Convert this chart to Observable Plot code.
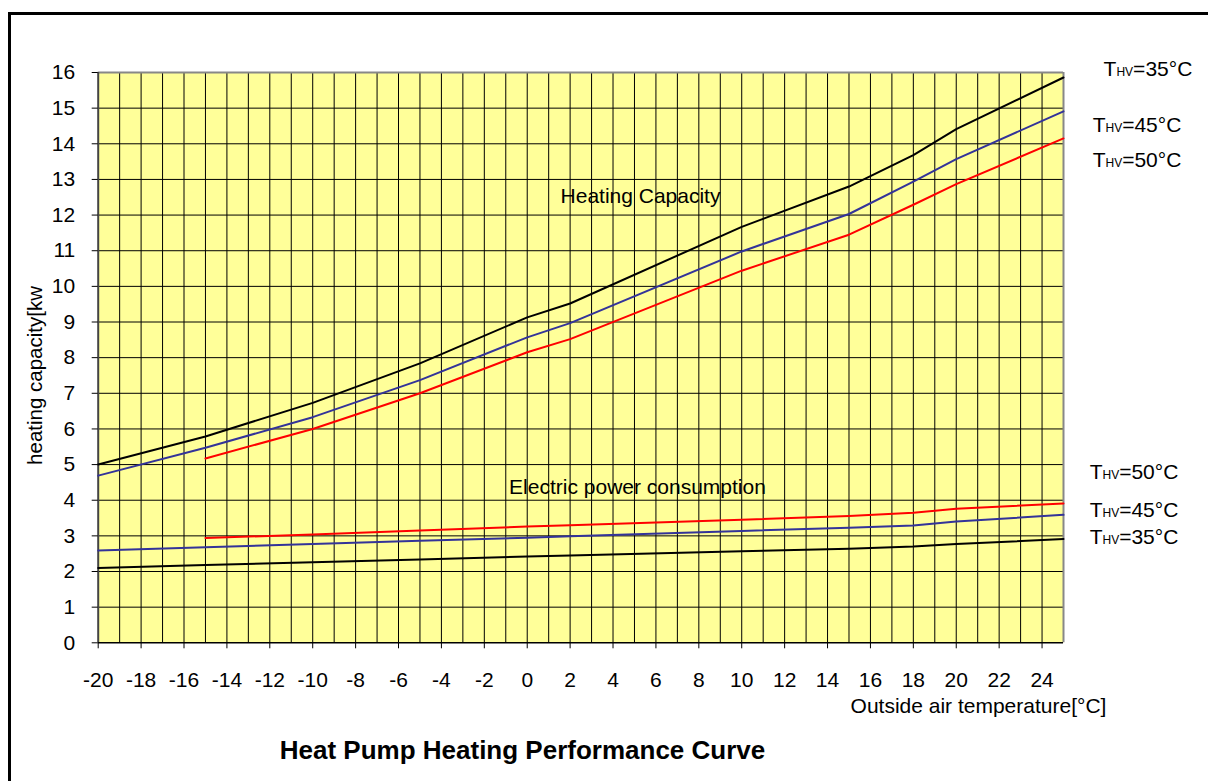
<!DOCTYPE html>
<html>
<head>
<meta charset="utf-8">
<script src="https://cdn.jsdelivr.net/npm/d3@7"></script>
<script src="https://cdn.jsdelivr.net/npm/@observablehq/plot@0.6"></script>
<style>
  html, body { margin: 0; padding: 0; background: #fff; overflow: hidden; }
  #wrap { position: relative; width: 1208px; height: 781px; overflow: hidden; }
  #box { position: absolute; left: 8px; top: 12px; width: 1400px; height: 1000px; border: 3px solid #000; box-sizing: border-box; }
  #chart { position: absolute; left: 0; top: 0; }
</style>
</head>
<body>
<div id="wrap"><div id="box"></div><div id="chart"></div></div>
<script>
// Outside air temperature (°C) sample points
const temps = [-20, -15, -10, -5, 0, 2, 10, 15, 18, 20, 25];
// Heating capacity (kW) for each flow temperature
const cap35 = [5.00, 5.79, 6.73, 7.84, 9.13, 9.52, 11.67, 12.80, 13.68, 14.41, 15.86];
const cap45 = [4.69, 5.47, 6.33, 7.37, 8.57, 8.97, 10.98, 12.03, 12.94, 13.57, 14.91];
const cap50 = [null, 5.17, 6.00, 7.00, 8.15, 8.52, 10.44, 11.45, 12.29, 12.87, 14.15];
// Electric power consumption (kW)
const pow35 = [2.10, 2.18, 2.26, 2.34, 2.42, 2.45, 2.57, 2.64, 2.70, 2.77, 2.91];
const pow45 = [2.59, 2.68, 2.77, 2.86, 2.95, 2.99, 3.14, 3.23, 3.29, 3.40, 3.59];
const pow50 = [null, 2.94, 3.04, 3.15, 3.26, 3.30, 3.45, 3.56, 3.65, 3.76, 3.91];

const xTicks = d3.range(-20, 25, 2);
const yTicks = d3.range(0, 17, 1);
const seriesColors = {"35": "#000000", "45": "#333399", "50": "#ff0000"};

const toRows = (vals) => temps.map((t, i) => ({t, v: vals[i]})).filter(d => d.v != null);

// label annotations (data coords)
const capLabels = [
  {t: 26.87, v: 16.08, s: "35"},
  {t: 26.36, v: 14.53, s: "45"},
  {t: 26.36, v: 13.55, s: "50"}
];
const powLabels = [
  {t: 26.22, v: 4.78, s: "50"},
  {t: 26.22, v: 3.71, s: "45"},
  {t: 26.22, v: 2.96, s: "35"}
];

const font = "'Liberation Sans', Arial, Helvetica, sans-serif";

const plot = Plot.plot({
  width: 1208,
  height: 781,
  marginLeft: 97.7,
  marginRight: 145,
  marginTop: 72,
  marginBottom: 138.7,
  style: {fontFamily: font, fontSize: "21px", color: "#000", background: "transparent", overflow: "visible"},
  x: {domain: [-20, 25]},
  y: {domain: [0, 16]},
  marks: [
    Plot.frame({fill: "#FFFF99", stroke: null}),
    Plot.ruleX(d3.range(-19, 25), {stroke: "#000", strokeWidth: 1}),
    Plot.ruleY(d3.range(1, 16), {stroke: "#000", strokeWidth: 1}),
    Plot.ruleY([16], {stroke: "#888", strokeWidth: 2}),
    Plot.ruleX([25], {stroke: "#888", strokeWidth: 2}),
    Plot.ruleX([-20], {stroke: "#444", strokeWidth: 2}),
    Plot.ruleY([0], {stroke: "#000", strokeWidth: 1.5}),
    Plot.axisX({ticks: xTicks, tickSize: 6, tickPadding: 23, label: null, fontSize: 21, tickFormat: d => String(d)}),
    Plot.axisY({ticks: yTicks, tickSize: 6, tickPadding: 17, label: null, fontSize: 21}),
    Plot.line(toRows(cap35), {x: "t", y: "v", stroke: seriesColors["35"], strokeWidth: 2}),
    Plot.line(toRows(cap45), {x: "t", y: "v", stroke: seriesColors["45"], strokeWidth: 2}),
    Plot.line(toRows(cap50), {x: "t", y: "v", stroke: seriesColors["50"], strokeWidth: 2}),
    Plot.line(toRows(pow35), {x: "t", y: "v", stroke: seriesColors["35"], strokeWidth: 2}),
    Plot.line(toRows(pow45), {x: "t", y: "v", stroke: seriesColors["45"], strokeWidth: 2}),
    Plot.line(toRows(pow50), {x: "t", y: "v", stroke: seriesColors["50"], strokeWidth: 2}),
    Plot.text([{t: 5.28, v: 12.52, s: "Heating Capacity"}], {x: "t", y: "v", text: "s", fontSize: 21, fill: "#000"}),
    Plot.text([{t: 5.14, v: 4.36, s: "Electric power consumption"}], {x: "t", y: "v", text: "s", fontSize: 21, fill: "#000"}),
    Plot.text(capLabels, {x: "t", y: "v", text: d => "T|HV|=" + d.s + "°C", textAnchor: "start", fontSize: 21, fill: "#000", className: "thv"}),
    Plot.text(powLabels, {x: "t", y: "v", text: d => "T|HV|=" + d.s + "°C", textAnchor: "start", fontSize: 21, fill: "#000", className: "thv"}),
    Plot.text([{t: -22.92, v: 7.5, s: "heating capacity[kw"}], {x: "t", y: "v", text: "s", rotate: -90, fontSize: 20.5, fill: "#000"}),
    Plot.text([{t: 27.0, v: -1.79, s: "Outside air temperature[°C]"}], {x: "t", y: "v", text: "s", textAnchor: "end", fontSize: 21, fill: "#000"}),
    Plot.text([{t: -0.22, v: -3.02, s: "Heat Pump Heating Performance Curve"}], {x: "t", y: "v", text: "s", fontSize: 26, fontWeight: "bold", fill: "#000"})
  ]
});

// render T with small "HV" subscript
d3.select(plot).selectAll(".thv text").each(function() {
  const parts = this.textContent.split("|");
  const sel = d3.select(this);
  sel.text(null);
  sel.append("tspan").text(parts[0]);
  sel.append("tspan").attr("font-size", 12).text(parts[1]);
  sel.append("tspan").text(parts[2]);
});

document.getElementById("chart").appendChild(plot);
</script>
</body>
</html>
